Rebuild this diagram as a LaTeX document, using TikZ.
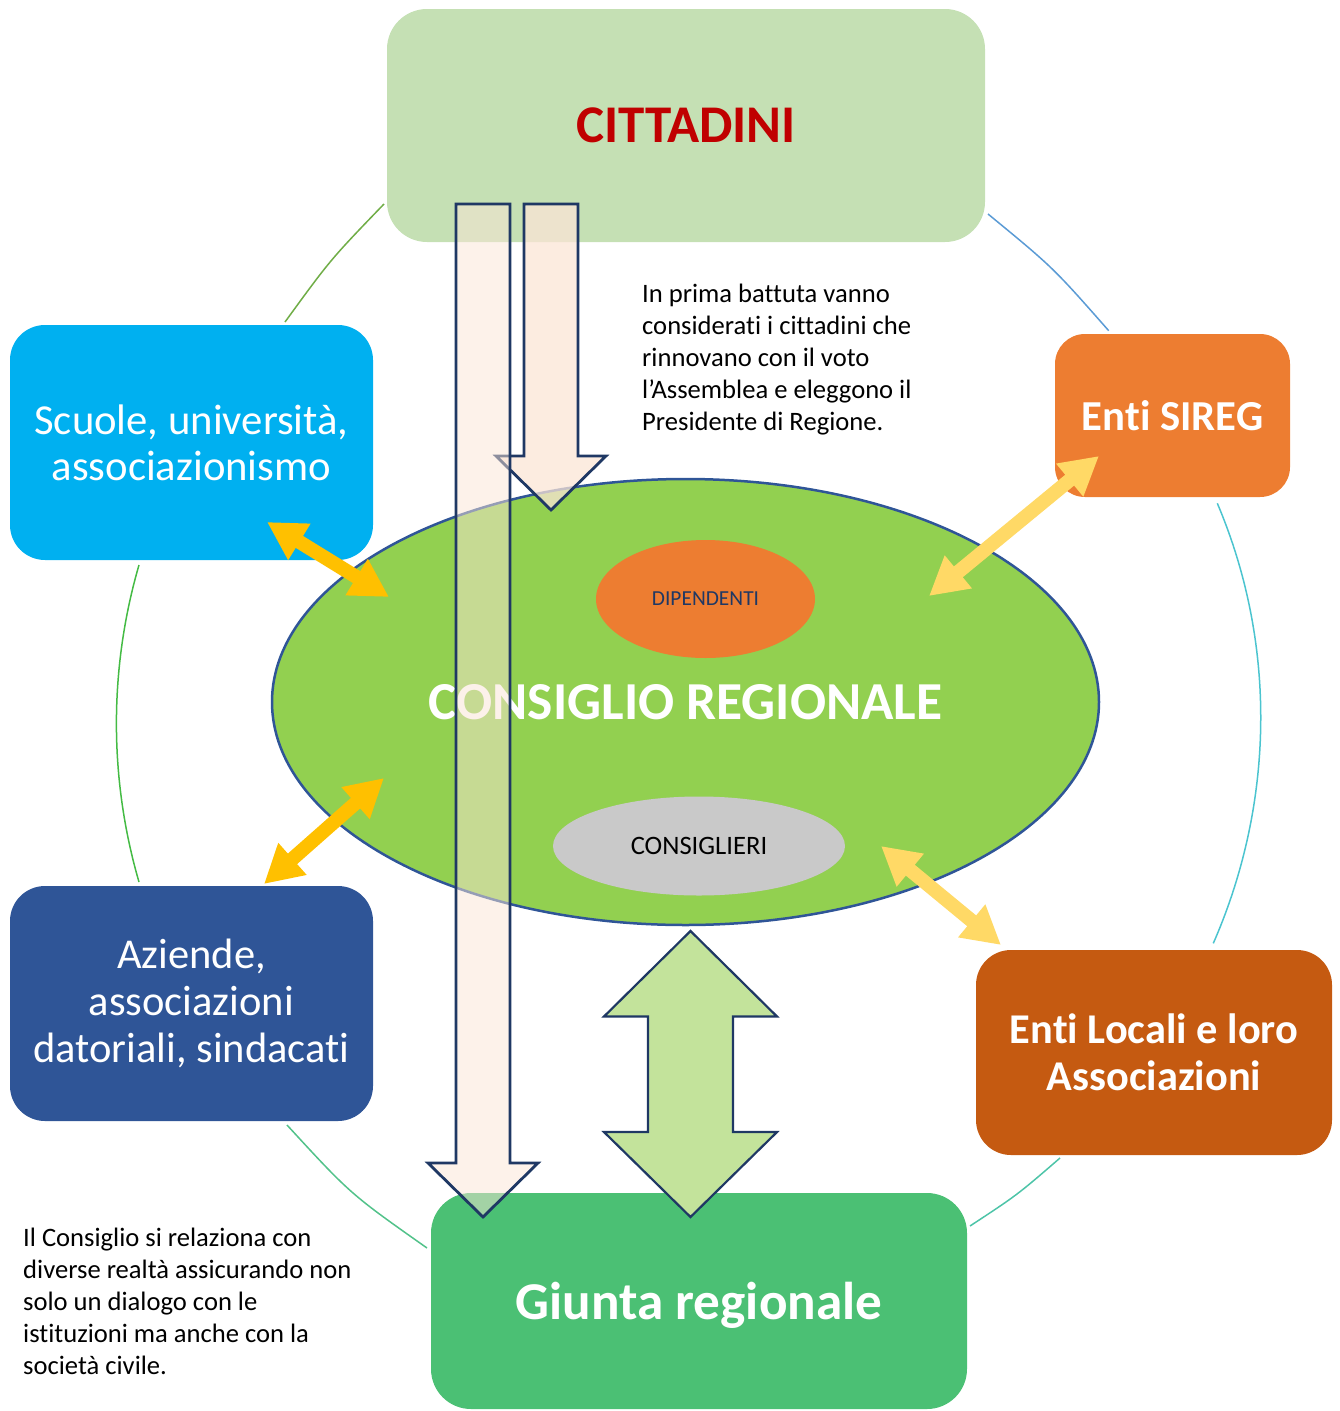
\documentclass[tikz,border=0pt]{standalone}
\usepackage{fontspec}
\setmainfont{Carlito}[Ligatures=NoCommon]
\usetikzlibrary{shapes.geometric,arrows.meta}
\definecolor{citbg}{HTML}{C5E0B4}
\definecolor{citred}{HTML}{C00000}
\definecolor{scubg}{HTML}{00B0F0}
\definecolor{sirbg}{HTML}{ED7D31}
\definecolor{azibg}{HTML}{2F5597}
\definecolor{locbg}{HTML}{C55A11}
\definecolor{giubg}{HTML}{4BC074}
\definecolor{ellg}{HTML}{92D050}
\definecolor{ellb}{HTML}{2F5597}
\definecolor{dipbg}{HTML}{ED7D31}
\definecolor{cglbg}{HTML}{C9C9C9}
\definecolor{navy}{HTML}{1F3864}
\definecolor{pinkf}{HTML}{FBE5D6}
\definecolor{dblg}{HTML}{C3E39B}
\definecolor{gold}{HTML}{FFC000}
\definecolor{lgold}{HTML}{FFD966}
\definecolor{arcA}{HTML}{70AD47}
\definecolor{arcB}{HTML}{5B9BD5}
\definecolor{arcC}{HTML}{44BB44}
\definecolor{arcD}{HTML}{4BC4CF}
\definecolor{arcE}{HTML}{52C28A}
\definecolor{arcF}{HTML}{4DC4A8}
\newcommand\fsz[2]{\fontsize{#1}{#2}\selectfont}
\begin{document}
\begin{tikzpicture}[x=1pt,y=-1pt,
  box/.style={inner sep=0pt, align=center, text=white},
  ringarc/.style={line width=1.5pt},
  blockarrow/.style={draw=navy, line width=2.8pt, line join=miter},
  yarrow/.style={line width=14pt, {Triangle[length=38pt,width=40pt]}-{Triangle[length=38pt,width=40pt]}},
  para/.style={inner sep=0pt, anchor=north west, align=left, font={\fsz{26.6}{32}}}
  ]
\useasboundingbox (0,0) rectangle (1339,1411);

% ring arcs
\draw[ringarc, arcA] (384,204) .. controls (330.4,259.6) .. (285,322);
\draw[ringarc, arcB] (988,214) .. controls (1053.1,267.5) .. (1108.7,330.7);
\draw[ringarc, arcC] (139,565) .. controls (108.9,668.4) and (108.9,778.6) .. (139,882);
\draw[ringarc, arcD] (1217.3,503.3) .. controls (1277.1,644) and (1274.6,803.2) .. (1213.3,943.3);
\draw[ringarc, arcE] (287,1125) .. controls (350.4,1194) .. (427,1248);
\draw[ringarc, arcF] (1060,1158) .. controls (1017.2,1195) .. (970,1226);

% boxes
\node[box, fill=citbg, rounded corners=40pt, minimum width=598pt, minimum height=233pt, text=citred, font={\fsz{53}{60}\bfseries}] (cit) at (686,125.5) {CITTADINI};
\node[box, fill=scubg, rounded corners=35pt, minimum width=363pt, minimum height=235pt, font={\fsz{42.7}{46}}] (scu) at (191.5,442.5) {Scuole, università,\\associazionismo};
\node[box, fill=sirbg, rounded corners=30pt, minimum width=235pt, minimum height=163pt, font={\fsz{42.7}{46}\bfseries}] (sir) at (1172.5,415.5) {Enti SIREG};
\node[box, fill=azibg, rounded corners=35pt, minimum width=363pt, minimum height=235pt, font={\fsz{42.5}{47}}] (azi) at (191.5,1003.5) {Aziende,\\associazioni\\datoriali, sindacati};
\node[box, fill=locbg, rounded corners=35pt, minimum width=356pt, minimum height=205pt, font={\fsz{42.4}{47}\bfseries}] (loc) at (1154,1052.5) {Enti Locali e loro\\Associazioni};
\node[box, fill=giubg, rounded corners=40pt, minimum width=536pt, minimum height=216pt, text depth=0pt, font={\fsz{53.2}{60}\bfseries}] (giu) at (699,1301) {Giunta regionale};

% central ellipse
\node[ellipse, draw=ellb, line width=2.5pt, fill=ellg, minimum width=827pt, minimum height=446pt, inner sep=0pt, text=white, font={\fsz{53.4}{60}\bfseries}] (cr) at (685.5,702) {CONSIGLIO REGIONALE};
\node[ellipse, fill=dipbg, minimum width=219pt, minimum height=118pt, inner sep=0pt, text=navy, font={\fsz{21.4}{24}}] (dip) at (705.5,599) {DIPENDENTI};
\node[ellipse, fill=cglbg, minimum width=292pt, minimum height=99pt, inner sep=0pt, text=black, font={\fsz{26.6}{30}}] (cgl) at (699,846) {CONSIGLIERI};

% texts
\node[para] (t1) at (642,284) {In prima battuta vanno\\considerati i cittadini che\\rinnovano con il voto\\l’Assemblea e eleggono il\\Presidente di Regione.};
\node[para] (t2) at (23,1228) {Il Consiglio si relaziona con\\diverse realtà assicurando non\\solo un dialogo con le\\istituzioni ma anche con la\\società civile.};

% block arrows
\draw[blockarrow, fill=pinkf, fill opacity=0.75] (524,204) -- (578,204) -- (578,456) -- (606,456) -- (551,510) -- (496,456) -- (524,456) -- cycle;
\draw[blockarrow, fill=pinkf, fill opacity=0.5] (456,204) -- (510,204) -- (510,1163) -- (538,1163) -- (483,1217) -- (428,1163) -- (456,1163) -- cycle;
\draw[blockarrow, line width=2.2pt, fill=dblg] (690.5,931) -- (777,1016.5) -- (733,1016.5) -- (733,1132) -- (777,1132) -- (690.5,1217) -- (604,1132) -- (648,1132) -- (648,1016.5) -- (604,1016.5) -- cycle;

% yellow double arrows
\coordinate (y1a) at (267,522); \coordinate (y1b) at (389,597);
\coordinate (y2a) at (264,884); \coordinate (y2b) at (384,778);
\coordinate (y3a) at (1099,456); \coordinate (y3b) at (929,596);
\coordinate (y4a) at (881,846); \coordinate (y4b) at (1001,945);
\draw[yarrow, gold] (y1a) -- (y1b);
\draw[yarrow, gold] (y2a) -- (y2b);
\draw[yarrow, lgold] (y3a) -- (y3b);
\draw[yarrow, lgold] (y4a) -- (y4b);
\end{tikzpicture}
\end{document}
